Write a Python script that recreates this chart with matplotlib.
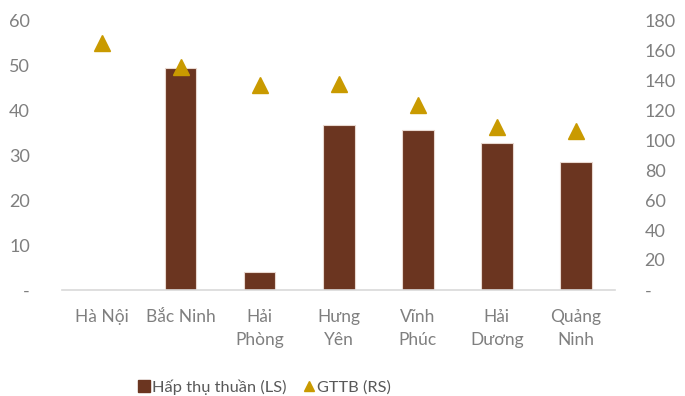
import matplotlib.pyplot as plt
from matplotlib.lines import Line2D

provinces = ['Hà Nội', 'Bắc Ninh', 'Hải\nPhòng', 'Hưng\nYên', 'Vĩnh\nPhúc', 'Hải\nDương', 'Quảng\nNinh']
net_absorption = [0, 49.6, 4.0, 36.8, 35.6, 32.7, 28.6]   # LS
avg_price = [165, 149, 137, 138, 124, 109, 106.5]         # RS

bar_color = '#6B3520'
tri_color = '#C99A00'
txt_color = '#7F7F7F'

plt.rcParams['font.family'] = ['Lato', 'Noto Sans', 'DejaVu Sans']
plt.rcParams['font.size'] = 12

fig = plt.figure(figsize=(6.85, 3.96), dpi=100)
ax = fig.add_axes([0.0905, 0.268, 0.808, 0.679])
ax2 = ax.twinx()

x = range(len(provinces))
ax.bar(x, net_absorption, width=0.4, color=bar_color, edgecolor='#E8D8CF', linewidth=0.8, zorder=2)
ax2.plot(x, avg_price, linestyle='None', marker='^', markersize=12, color=tri_color, zorder=3)

ax.set_xlim(-0.5, len(provinces) - 0.5)
ax.set_ylim(0, 60)
ax2.set_ylim(0, 180)
ax.set_yticks(range(0, 61, 10))
ax.set_yticklabels(['-'] + [str(v) for v in range(10, 61, 10)])
ax2.set_yticks(range(0, 181, 20))
ax2.set_yticklabels(['-'] + [str(v) for v in range(20, 181, 20)])

ax.set_xticks(list(x))
ax.set_xticklabels(provinces, linespacing=1.55)

for a in (ax, ax2):
    for s in a.spines.values():
        s.set_visible(False)
    a.tick_params(length=0, colors=txt_color, labelsize=13)
ax.tick_params(axis='x', labelsize=12.5, pad=14)
ax.spines['bottom'].set_visible(True)
ax.spines['bottom'].set_color('#D9D9D9')
ax.spines['bottom'].set_linewidth(1.2)
ax.tick_params(axis='y', pad=23)
ax2.tick_params(axis='y', pad=21)
for lbl in ax.get_yticklabels():
    lbl.set_horizontalalignment('right')

handles = [
    Line2D([0], [0], marker='s', linestyle='None', markersize=8, color=bar_color),
    Line2D([0], [0], marker='^', linestyle='None', markersize=7, color=tri_color),
]
fig.legend(handles, ['Hấp thụ thuần (LS)', 'GTTB (RS)'], loc='center', bbox_to_anchor=(0.385, 0.022),
           ncol=2, frameon=False, handletextpad=0.05, columnspacing=0.9, handlelength=0.9,
           labelcolor='#595959', fontsize=11.8)

fig.savefig('out.png', dpi=100)
